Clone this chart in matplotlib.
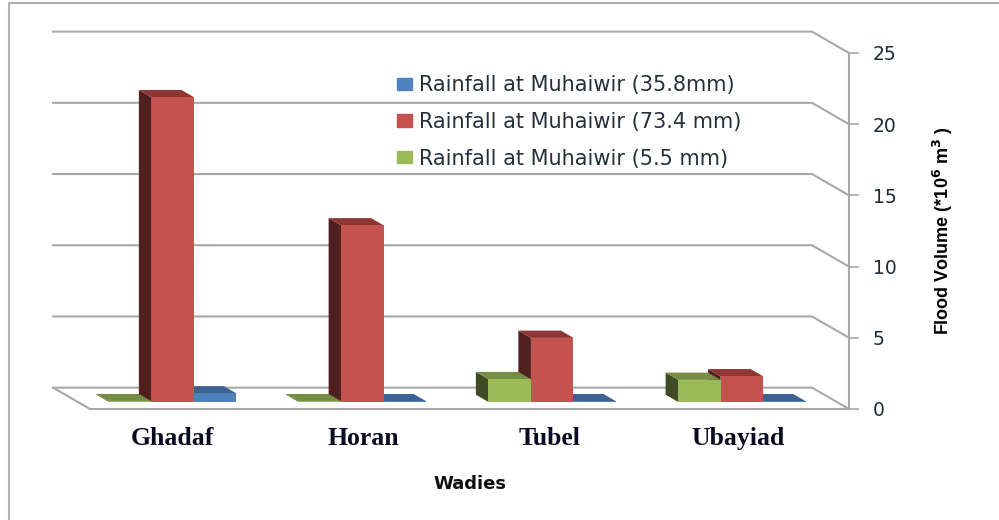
import matplotlib
matplotlib.use("Agg")
import matplotlib.pyplot as plt
from matplotlib.lines import Line2D
from matplotlib.patches import Patch

plt.rcParams["font.family"] = ["DejaVu Sans"]

# data
wadies = ["Ghadaf", "Horan", "Tubel", "Ubayiad"]
rain_35 = [0.6, 0.05, 0.05, 0.05]
rain_73 = [21.4, 12.4, 4.5, 1.8]
rain_5 = [0.05, 0.05, 1.6, 1.55]
y_ticks = [0, 5, 10, 15, 20, 25]
legend_labels = ["Rainfall at Muhaiwir (35.8mm)", "Rainfall at Muhaiwir (73.4 mm)", "Rainfall at Muhaiwir (5.5 mm)"]

W, H = 999, 520
GRID = "#a8a8a8"
# face, top, side
BLUE = ("#4f81bd", "#3b6291", "#2c4a6e")
RED = ("#c4534f", "#8e3634", "#4f201f")
GREEN = ("#9bbb59", "#768e44", "#3f4b24")

# fake 3D, depth goes up and to the left
DX = 37 / 190
DY = 1.5
BAR_W = 0.224
D_FRONT, D_BACK = 0.33, 0.67


def proj(x, y, d):
    return x - d * DX, y + d * DY


fig = plt.figure(figsize=(W / 100, H / 100), dpi=100)
ax = fig.add_axes([90 / W, (H - 409) / H, 759 / W, 356 / H])
ax.set_xlim(0, 4)
ax.set_ylim(0, 25)


def poly(pts, color, z):
    xs, ys = zip(*[proj(*p) for p in pts])
    ax.fill(xs, ys, color=color, lw=0, zorder=z, clip_on=False)


def bar3d(x0, val, colors, z):
    x1 = x0 + BAR_W
    # side, top, front
    poly([(x0, 0, D_FRONT), (x0, 0, D_BACK), (x0, val, D_BACK), (x0, val, D_FRONT)], colors[2], z)
    poly([(x0, val, D_FRONT), (x0, val, D_BACK), (x1, val, D_BACK), (x1, val, D_FRONT)], colors[1], z)
    poly([(x0, 0, D_FRONT), (x1, 0, D_FRONT), (x1, val, D_FRONT), (x0, val, D_FRONT)], colors[0], z)


# walls
for v in y_ticks:
    xb, yb = proj(0, v, 1)
    xe, ye = proj(4, v, 1)
    ax.plot([xb, xe, 4], [yb, ye, v], color=GRID, lw=1.5, zorder=1, clip_on=False)
xb, yb = proj(0, 0, 1)
ax.plot([xb, 0], [yb, 0], color=GRID, lw=1.5, zorder=1, clip_on=False)

# draw right to left so the nearer bars cover the others
z = 2
for i in range(3, -1, -1):
    c = i + 0.5 - BAR_W / 2
    bar3d(c + BAR_W, rain_35[i], BLUE, z)
    bar3d(c, rain_73[i], RED, z + 1)
    bar3d(c - BAR_W, rain_5[i], GREEN, z + 2)
    z += 3

for s in ["top", "left"]:
    ax.spines[s].set_visible(False)
for s in ["right", "bottom"]:
    ax.spines[s].set_color(GRID)
    ax.spines[s].set_linewidth(1.5)

ax.yaxis.tick_right()
ax.set_yticks(y_ticks)
ax.tick_params(axis="y", length=7.2, width=1.2, color=GRID, pad=10, labelsize=13.5, labelcolor="#1f2a3a")
ax.set_xticks([0.437, 1.442, 2.42, 3.416])
ax.set_xticklabels(wadies, family="Liberation Serif", fontweight="bold", fontsize=18.5, color="#0a0a20")
ax.tick_params(axis="x", length=0, pad=13)

ax.set_xlabel("Wadies", fontweight="bold", fontsize=13, color="#101010")
ax.xaxis.set_label_coords(0.5, -0.185)

plt.rcParams["mathtext.default"] = "bf"
ax.yaxis.set_label_position("right")
ax.set_ylabel("Flood Volume (*10$^{6}$ m$^{3}$ )", family="Liberation Sans", fontweight="bold", fontsize=13, color="black", rotation=90)
ax.yaxis.set_label_coords(1.108, 0.5)

handles = [Patch(color=BLUE[0]), Patch(color=RED[0]), Patch(color=GREEN[0])]
ax.legend(handles, legend_labels, frameon=False, loc="upper left", bbox_to_anchor=(0.404, 0.937),
          borderaxespad=0, borderpad=0, fontsize=15, labelcolor="#26303c",
          handlelength=0.72, handleheight=0.53, handletextpad=0.34, labelspacing=0.795)

# picture frame
fig.add_artist(Line2D([9 / W, 9 / W, 1], [0, 1 - 3 / H, 1 - 3 / H], color="#b0b0b0", lw=1.5))

fig.savefig("out.png", dpi=100)
